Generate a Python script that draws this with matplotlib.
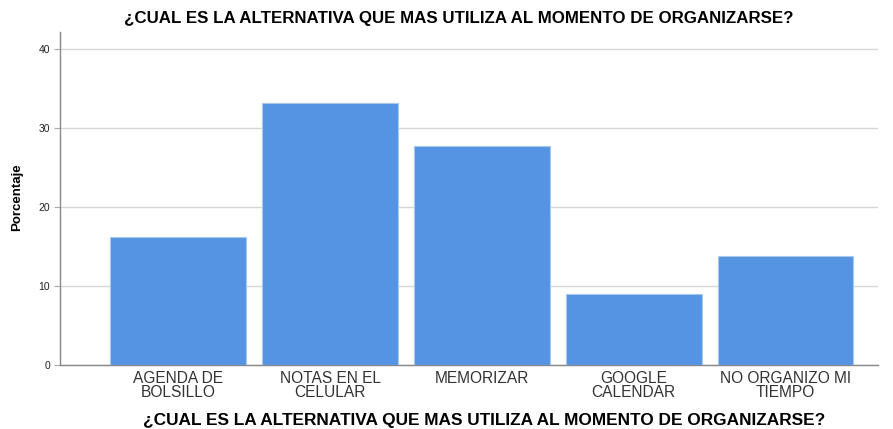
import numpy as np
import matplotlib
matplotlib.use("Agg")
import matplotlib.pyplot as plt

plt.rcParams['font.family'] = ['Liberation Sans', 'DejaVu Sans']

# data
categories = ["AGENDA DE\nBOLSILLO", "NOTAS EN EL\nCELULAR", "MEMORIZAR",
              "GOOGLE\nCALENDAR", "NO ORGANIZO MI\nTIEMPO"]
porcentaje = [16.2, 33.1, 27.7, 9.0, 13.8]
yticks = [0, 10, 20, 30, 40]

titulo = "¿CUAL ES LA ALTERNATIVA QUE MAS UTILIZA AL MOMENTO DE ORGANIZARSE?"

fig = plt.figure(figsize=(8.93, 4.29), dpi=100)
ax = fig.add_axes([60/893, 64/429, 818/893, 333/429])

x = np.arange(len(categories))
ax.bar(x, porcentaje, width=0.895, color="#5594e2", edgecolor="#a9c8f0",
       linewidth=0.8, zorder=3)

ax.set_xlim(-0.78, 4.61)
ax.set_ylim(0, 42.1)
ax.set_yticks(yticks)
ax.set_yticklabels([str(t) for t in yticks], fontsize=7.5, color="#222222")
ax.set_xticks(x)
ax.set_xticklabels(categories, fontsize=11.2, color="#333333", linespacing=0.92)
ax.tick_params(axis="x", length=0, pad=4)
ax.tick_params(axis="y", length=4, color="#aaaaaa", pad=3)
ax.yaxis.grid(True, color="#d6d6d6", linewidth=1, zorder=0)

for s in ["top", "right"]:
    ax.spines[s].set_visible(False)
for s in ["left", "bottom"]:
    ax.spines[s].set_color("#888888")
    ax.spines[s].set_linewidth(1)

fig.text(17/893, 1 - 197/429, "Porcentaje", fontsize=9.5, fontweight="bold",
         rotation=90, ha="center", va="center")
fig.text(484/893, 1 - 421/429, titulo, fontsize=12.4, fontweight="bold",
         ha="center", va="center")
fig.text(459/893, 1 - 18/429, titulo, fontsize=12.2, fontweight="bold",
         ha="center", va="center")

fig.savefig("out.png", dpi=100)
